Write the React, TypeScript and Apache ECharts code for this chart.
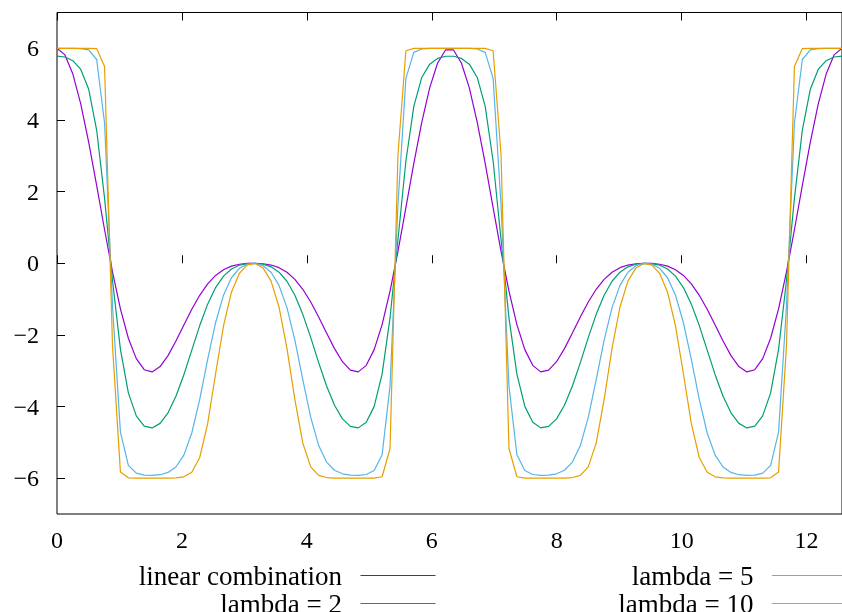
import React, { useEffect, useRef } from "react";
import * as echarts from "echarts";

const FOUR_PI = 12.566370614359172;

const xSamples = [
  0, 0.1269, 0.2539, 0.3808, 0.5077, 0.6347, 0.7616, 0.8885, 1.0155, 1.1424,
  1.2693, 1.3963, 1.5232, 1.6501, 1.7771, 1.904, 2.0309, 2.1579, 2.2848, 2.4117,
  2.5387, 2.6656, 2.7925, 2.9195, 3.0464, 3.1733, 3.3003, 3.4272, 3.5541, 3.6811,
  3.808, 3.9349, 4.0619, 4.1888, 4.3157, 4.4427, 4.5696, 4.6965, 4.8235, 4.9504,
  5.0773, 5.2043, 5.3312, 5.4581, 5.5851, 5.712, 5.8389, 5.9659, 6.0928, 6.2197,
  6.3467, 6.4736, 6.6005, 6.7275, 6.8544, 6.9813, 7.1083, 7.2352, 7.3621, 7.489,
  7.616, 7.7429, 7.8698, 7.9968, 8.1237, 8.2506, 8.3776, 8.5045, 8.6314, 8.7584,
  8.8853, 9.0122, 9.1392, 9.2661, 9.393, 9.52, 9.6469, 9.7738, 9.9008, 10.0277,
  10.1546, 10.2816, 10.4085, 10.5354, 10.6624, 10.7893, 10.9162, 11.0432, 11.1701, 11.297,
  11.424, 11.5509, 11.6778, 11.8048, 11.9317, 12.0586, 12.1856, 12.3125, 12.4394, 12.5664,
];

const linearCombination = [
  6, 5.816, 5.281, 4.443, 3.377, 2.174, 0.935, -0.242, -1.273, -2.093,
  -2.663, -2.972, -3.034, -2.885, -2.578, -2.171, -1.723, -1.285, -0.895, -0.578,
  -0.341, -0.18, -0.081, -0.028, -0.005, -0.001, -0.014, -0.05, -0.124, -0.252,
  -0.449, -0.727, -1.082, -1.5, -1.949, -2.383, -2.748, -2.983, -3.032, -2.85,
  -2.411, -1.713, -0.781, 0.333, 1.553, 2.786, 3.933, 4.896, 5.59, 5.954,
  5.954, 5.59, 4.896, 3.933, 2.786, 1.553, 0.333, -0.781, -1.713, -2.411,
  -2.85, -3.032, -2.983, -2.748, -2.383, -1.949, -1.5, -1.082, -0.727, -0.449,
  -0.252, -0.124, -0.05, -0.014, -0.001, -0.005, -0.028, -0.081, -0.18, -0.341,
  -0.578, -0.895, -1.285, -1.723, -2.171, -2.578, -2.885, -3.034, -2.972, -2.663,
  -2.093, -1.273, -0.242, 0.935, 2.174, 3.377, 4.443, 5.281, 5.816, 6,
];

const lambda2 = [
  5.784, 5.757, 5.655, 5.41, 4.857, 3.719, 1.812, -0.483, -2.404, -3.618,
  -4.262, -4.546, -4.598, -4.47, -4.175, -3.715, -3.111, -2.424, -1.74, -1.142,
  -0.679, -0.359, -0.162, -0.056, -0.009, -0.001, -0.027, -0.1, -0.248, -0.502,
  -0.892, -1.426, -2.075, -2.773, -3.428, -3.965, -4.344, -4.555, -4.596, -4.439,
  -3.996, -3.096, -1.527, 0.664, 2.855, 4.38, 5.187, 5.558, 5.718, 5.778,
  5.778, 5.718, 5.558, 5.187, 4.38, 2.855, 0.664, -1.527, -3.096, -3.996,
  -4.439, -4.596, -4.555, -4.344, -3.965, -3.428, -2.773, -2.075, -1.426, -0.892,
  -0.502, -0.248, -0.1, -0.027, -0.001, -0.009, -0.056, -0.162, -0.359, -0.679,
  -1.142, -1.74, -2.424, -3.111, -3.715, -4.175, -4.47, -4.598, -4.546, -4.262,
  -3.618, -2.404, -0.483, 1.812, 3.719, 4.857, 5.41, 5.655, 5.757, 5.784,
];

const lambda5 = [
  6.0, 5.999, 5.998, 5.993, 5.957, 5.688, 3.915, -1.195, -4.716, -5.644,
  -5.86, -5.916, -5.924, -5.903, -5.839, -5.687, -5.357, -4.739, -3.797, -2.686,
  -1.66, -0.892, -0.405, -0.141, -0.024, -0.003, -0.068, -0.25, -0.617, -1.24,
  -2.148, -3.246, -4.303, -5.09, -5.551, -5.778, -5.878, -5.917, -5.924, -5.897,
  -5.788, -5.347, -3.432, 1.625, 5.161, 5.886, 5.983, 5.997, 5.999, 5.999,
  5.999, 5.999, 5.997, 5.983, 5.886, 5.161, 1.625, -3.432, -5.347, -5.788,
  -5.897, -5.924, -5.917, -5.878, -5.778, -5.551, -5.09, -4.303, -3.246, -2.148,
  -1.24, -0.617, -0.25, -0.068, -0.003, -0.024, -0.141, -0.405, -0.892, -1.66,
  -2.686, -3.797, -4.739, -5.357, -5.687, -5.839, -5.903, -5.924, -5.916, -5.86,
  -5.644, -4.716, -1.195, 3.915, 5.688, 5.957, 5.993, 5.998, 5.999, 6.0,
];

const lambda10 = [
  6.0, 6.0, 6.0, 6.0, 6.0, 5.992, 5.492, -2.299, -5.83, -5.989,
  -5.998, -5.999, -6.0, -5.999, -5.998, -5.991, -5.962, -5.837, -5.423, -4.475,
  -3.084, -1.746, -0.807, -0.281, -0.047, -0.005, -0.135, -0.5, -1.221, -2.378,
  -3.807, -5.023, -5.683, -5.92, -5.982, -5.996, -5.999, -5.999, -6.0, -5.999,
  -5.996, -5.96, -5.172, 3.027, 5.933, 5.999, 6.0, 6.0, 6.0, 6.0,
  6.0, 6.0, 6.0, 6.0, 5.999, 5.933, 3.027, -5.172, -5.96, -5.996,
  -5.999, -6.0, -5.999, -5.999, -5.996, -5.982, -5.92, -5.683, -5.023, -3.807,
  -2.378, -1.221, -0.5, -0.135, -0.005, -0.047, -0.281, -0.807, -1.746, -3.084,
  -4.475, -5.423, -5.837, -5.962, -5.991, -5.998, -5.999, -6.0, -5.999, -5.998,
  -5.989, -5.83, -2.299, 5.492, 5.992, 6.0, 6.0, 6.0, 6.0, 6.0,
];

const seriesNames = ["linear combination", "lambda = 2", "lambda = 5", "lambda = 10"];
const seriesValues = [linearCombination, lambda2, lambda5, lambda10];
const seriesColors = ["#9400d3", "#009e73", "#56b4e9", "#e69f00"];

export default function App() {
  const ref = useRef<HTMLDivElement>(null);

  useEffect(() => {
    if (!ref.current) return;
    const chart = echarts.init(ref.current, undefined, { renderer: "svg" });

    const fmtX = (v: number) =>
      Math.abs(v - Math.round(v)) < 1e-9 ? String(Math.round(v)) : "";
    const fmtY = (v: number) =>
      v < 0 ? "\u2212" + String(Math.abs(v)) : String(v);

    const tickLabelStyle = { fontFamily: "Liberation Serif", fontSize: 24, color: "#000" };
    const legendTextStyle = { fontFamily: "Liberation Serif", fontSize: 27, color: "#000" };

    const legendBase = {
      orient: "horizontal",
      align: "right",
      padding: 0,
      icon: "rect",
      itemWidth: 75,
      itemHeight: 1.2,
      itemGap: 0,
      selectedMode: false,
      formatter: (name: string) => name + "\u2002",
      textStyle: legendTextStyle,
    };

    chart.setOption({
      animation: false,
      textStyle: { fontFamily: "Liberation Serif" },
      grid: {
        left: 57,
        right: -4,
        top: 12.5,
        bottom: 98,
        show: true,
        borderColor: "#000",
        borderWidth: 1,
      },
      xAxis: [
        {
          type: "value",
          min: 0,
          max: FOUR_PI,
          interval: 2,
          position: "bottom",
          axisLine: { show: false },
          axisTick: { show: true, inside: true, length: 8, lineStyle: { color: "#000", width: 1 } },
          axisLabel: {
            showMaxLabel: false,
            formatter: fmtX,
            margin: 14,
            ...tickLabelStyle,
            textStyle: tickLabelStyle,
          },
          splitLine: { show: false },
        },
        {
          type: "value",
          min: 0,
          max: FOUR_PI,
          interval: 2,
          position: "top",
          axisLine: { show: false },
          axisTick: { show: true, inside: true, length: 8, lineStyle: { color: "#000", width: 1 } },
          axisLabel: { show: false },
          splitLine: { show: false },
        },
      ],
      yAxis: {
        type: "value",
        min: -7,
        max: 7,
        splitNumber: 7,
        axisLine: { show: false },
        axisTick: { show: true, inside: true, length: 8, lineStyle: { color: "#000", width: 1 } },
        axisLabel: {
          showMinLabel: false,
          showMaxLabel: false,
          formatter: fmtY,
          margin: 18,
          ...tickLabelStyle,
          textStyle: tickLabelStyle,
        },
        splitLine: { show: false },
      },
      legend: [
        { ...legendBase, data: [seriesNames[0]], right: 406.5, top: 562 },
        { ...legendBase, data: [seriesNames[1]], right: 406.5, top: 590 },
        { ...legendBase, data: [seriesNames[2]], right: -5, top: 562 },
        { ...legendBase, data: [seriesNames[3]], right: -5, top: 590 },
      ],
      series: seriesNames.map((name, k) => ({
        name,
        type: "line",
        symbol: "none",
        color: seriesColors[k],
        lineStyle: { color: seriesColors[k], width: 1.2 },
        data: xSamples.map((x, i) => [x, seriesValues[k][i]]),
      })),
    });

    return () => chart.dispose();
  }, []);

  return (
    <div
      ref={ref}
      style={{ position: "fixed", left: 0, top: 0, width: 842, height: 612 }}
    />
  );
}
